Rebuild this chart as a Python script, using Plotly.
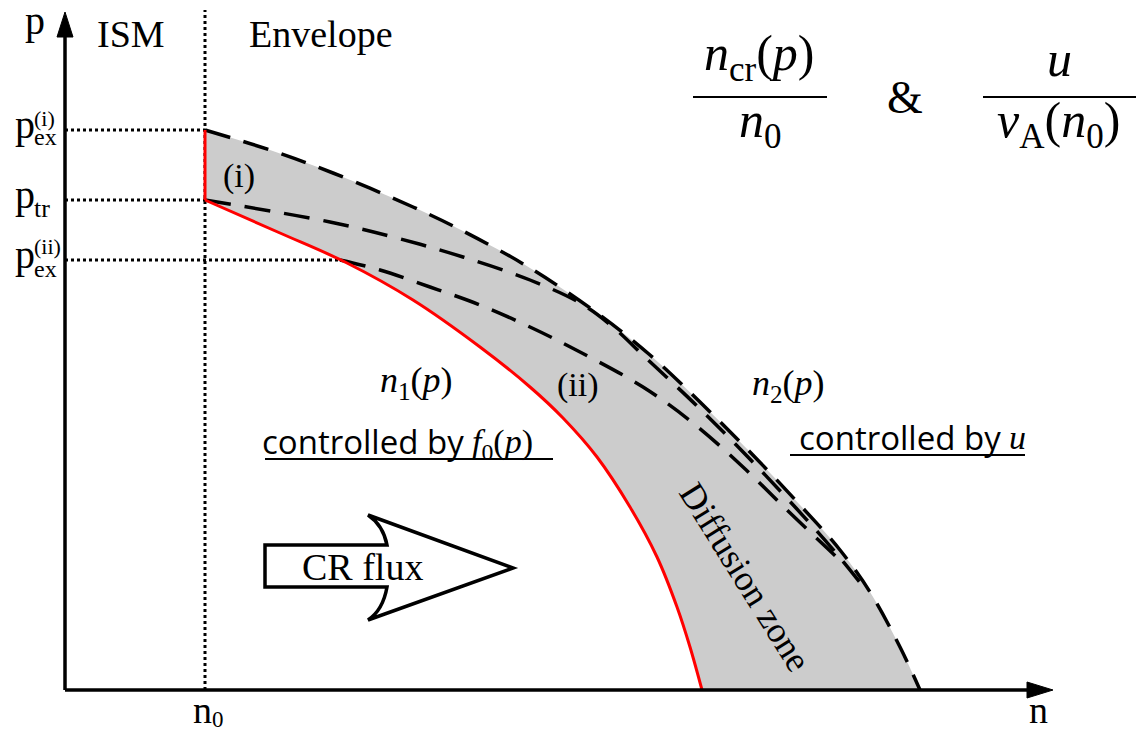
import plotly.graph_objects as go

# ---------------- data (schematic units: n along x, p along y) ----------------
n0 = 140          # position of n0 (ISM / Envelope boundary)
p_ex_i = 560      # p_ex^(i)
p_tr = 490        # p_tr
p_ex_ii = 430     # p_ex^(ii)
n_ex_ii = 275     # where p_ex^(ii) meets the red curve

outer_n = [140, 205, 268, 348, 398, 465, 532, 585, 635, 685, 735, 775, 805, 835, 855]
outer_p = [560, 540, 517, 483, 459, 422, 377, 335, 288, 238, 185, 140, 98, 43, 0]

middle_n = [140, 265, 332, 398, 465, 515, 548, 581, 631, 681, 731, 771, 797]
middle_p = [490, 468, 452, 433, 410, 387, 363, 332, 285, 235, 182, 137, 105]

inner_n = [275, 315, 365, 415, 465, 515, 578, 628, 678, 722, 762, 780]
inner_p = [430, 420, 403, 385, 363, 338, 303, 267, 223, 180, 142, 125]

red_n = [140, 215, 282, 348, 415, 465, 498, 532, 565, 592, 612, 625, 637]
red_p = [490, 457, 427, 390, 343, 303, 272, 233, 183, 133, 83, 43, 0]

SERIF = "Liberation Serif"
SANS = "Open Sans"
NORM = '<span style="font-style:normal">'

fig = go.Figure()

# gray diffusion zone between red curve and outer dashed curve
fig.add_trace(go.Scatter(x=red_n, y=red_p, mode="lines", line=dict(width=0, shape="spline"),
                         hoverinfo="skip"))
fig.add_trace(go.Scatter(x=outer_n, y=outer_p, mode="lines", line=dict(width=0, shape="spline"),
                         fill="tonexty", fillcolor="#cccccc", hoverinfo="skip"))

DASH = "26px,14px"
for xs, ys in [(outer_n, outer_p), (middle_n, middle_p), (inner_n, inner_p)]:
    fig.add_trace(go.Scatter(x=xs, y=ys, mode="lines",
                             line=dict(color="black", width=3.5, dash=DASH, shape="spline"),
                             hoverinfo="skip"))

fig.add_trace(go.Scatter(x=red_n, y=red_p, mode="lines",
                         line=dict(color="#ff0000", width=3, shape="spline"), hoverinfo="skip"))
fig.add_trace(go.Scatter(x=[n0, n0], y=[p_ex_i, p_tr], mode="lines",
                         line=dict(color="#ff0000", width=3), hoverinfo="skip"))

shapes = []
DOT = "3px,3px"
# dotted guide lines
shapes.append(dict(type="line", x0=n0, x1=n0, y0=0, y1=680, line=dict(color="black", width=3, dash=DOT), layer="below"))
for yv, xe in [(p_ex_i, n0), (p_tr, n0), (p_ex_ii, n_ex_ii)]:
    shapes.append(dict(type="line", x0=0, x1=xe, y0=yv, y1=yv, line=dict(color="black", width=3, dash=DOT), layer="below"))

# axes with arrow heads
shapes.append(dict(type="line", x0=0, x1=0, y0=0, y1=660, line=dict(color="black", width=3.5)))
shapes.append(dict(type="line", x0=0, x1=965, y0=0, y1=0, line=dict(color="black", width=3.5)))
shapes.append(dict(type="path", path="M 0,678 L -8,653 L 8,653 Z", fillcolor="black", line=dict(color="black", width=1)))
shapes.append(dict(type="path", path="M 988,0 L 962,-8 L 962,8 Z", fillcolor="black", line=dict(color="black", width=1)))

# CR flux block arrow
shapes.append(dict(type="path",
                   path="M 200,145 L 322,145 Q 318,165 303,175 L 448,122 L 303,70 Q 318,80 322,103 L 200,103 Z",
                   fillcolor="white", line=dict(color="black", width=3.5)))

# fraction bars
shapes.append(dict(type="line", x0=628, x1=762, y0=593, y1=593, line=dict(color="black", width=2)))
shapes.append(dict(type="line", x0=918, x1=1071, y0=593, y1=593, line=dict(color="black", width=2)))

# underlines of the "controlled by" labels
shapes.append(dict(type="line", x0=200, x1=488, y0=231, y1=231, line=dict(color="black", width=2)))
shapes.append(dict(type="line", x0=725, x1=960, y0=235, y1=235, line=dict(color="black", width=2)))

ann = []
def A(text, x, y, size, family=SERIF, xanchor="center", angle=0, style="normal", weight="normal"):
    ann.append(dict(text=text, x=x, y=y, xref="x", yref="y", showarrow=False,
                    font=dict(family=family, size=size, color="black", style=style, weight=weight),
                    xanchor=xanchor, yanchor="middle", textangle=angle))

A("p", -30, 670, 40)
A("ISM", 66, 656, 38)
A("Envelope", 256, 656, 38)

# p labels on the left
A("p", -52, 566, 40, xanchor="left")
A("(i)", -33, 572, 22, xanchor="left")
A("ex", -33, 553, 24, xanchor="left")
A("p", -52, 496, 40, xanchor="left")
A("tr", -33, 482, 26, xanchor="left")
A("p", -52, 436, 40, xanchor="left")
A("(ii)", -33, 444, 22, xanchor="left")
A("ex", -33, 421, 24, xanchor="left")

# n labels
A("n", 137, -20, 38)
A("0", 153, -29, 23)
A("n", 973, -20, 38)

# region labels
A("(i)", 174, 514, 34)
A("(ii)", 513, 305, 34)
A("n" + NORM + "<sub>1</sub>(</span>p" + NORM + ")</span>", 351, 308, 36, style="italic")
A("n" + NORM + "<sub>2</sub>(</span>p" + NORM + ")</span>", 723, 305, 36, style="italic")

A("controlled by", 401, 249, 33, family=SANS, xanchor="right")
A("f" + NORM + "<sub>0</sub>(</span>p" + NORM + ")</span>", 405, 246, 34, xanchor="left", style="italic")
A("controlled by", 938, 253, 33, family=SANS, xanchor="right")
A("u", 942, 253, 34, xanchor="left", style="italic")

A("Diffusion zone", 680, 113, 36, angle=58)
A("CR flux", 297, 123, 38)

# formula
A("n" + NORM + "<sub>cr</sub>(</span>p" + NORM + ")</span>", 694, 633, 50, style="italic")
A("n" + NORM + "<sub>0</sub></span>", 695, 566, 50, style="italic")
A("&amp;", 840, 593, 46)
A("u", 994, 631, 50, style="italic")
A("v" + NORM + "<sub>A</sub>(</span>n" + NORM + "<sub>0</sub>)</span>", 993, 566, 50, style="italic")

fig.update_layout(
    width=1139, height=732,
    margin=dict(l=0, r=0, t=0, b=0),
    paper_bgcolor="white", plot_bgcolor="white",
    showlegend=False,
    xaxis=dict(range=[-65, 1074], visible=False, fixedrange=True),
    yaxis=dict(range=[-42, 690], visible=False, fixedrange=True),
    shapes=shapes, annotations=ann,
)

fig.write_html("out.html")
